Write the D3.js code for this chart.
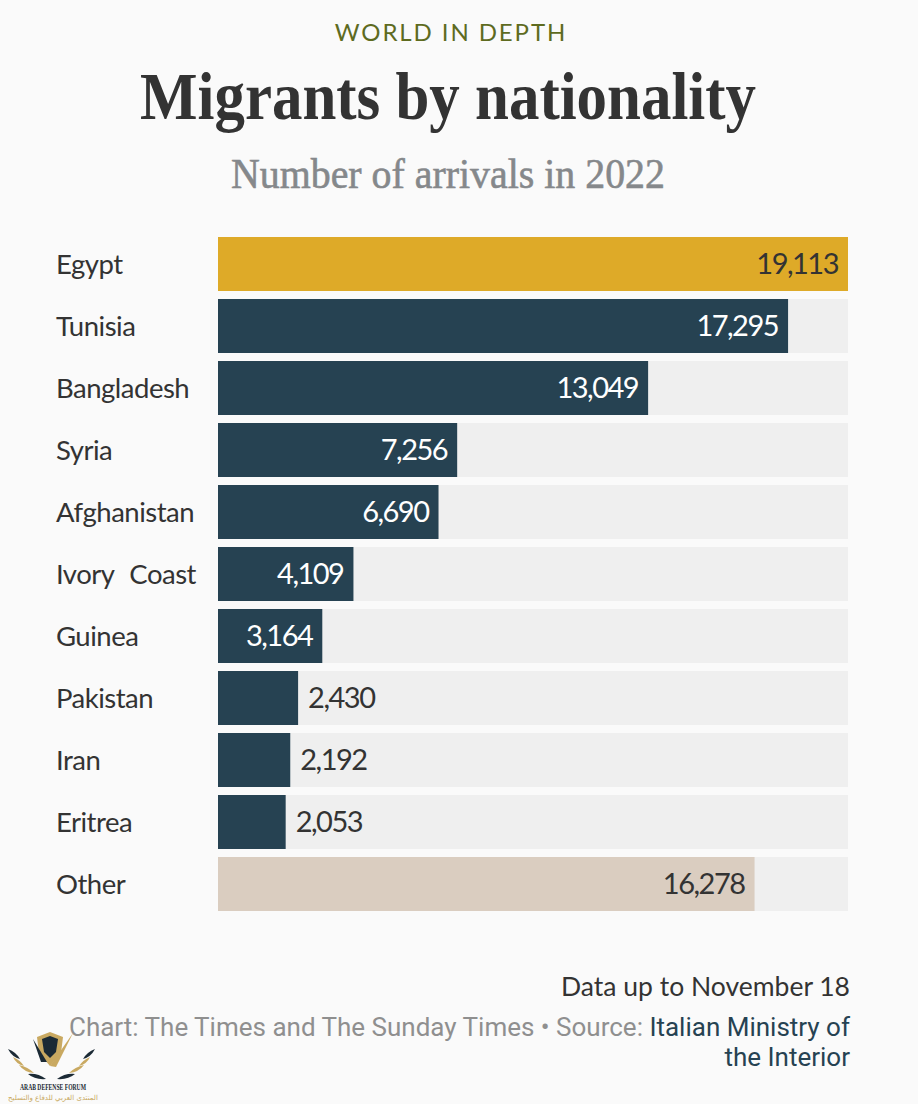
<!DOCTYPE html>
<html>
<head>
<meta charset="utf-8">
<script src="https://cdn.jsdelivr.net/npm/d3@7"></script>
<style>
  html, body { margin: 0; padding: 0; background: #fafafa; }
  svg { display: block; }
  .label { font-family: Lato, sans-serif; font-size: 27.5px; letter-spacing: -0.5px; word-spacing: 9px; fill: #333; }
  .value { font-family: Lato, sans-serif; font-size: 29px; letter-spacing: -1.5px; }
</style>
</head>
<body>
<svg id="chart" width="918" height="1104"></svg>
<script>
const categories = ["Egypt", "Tunisia", "Bangladesh", "Syria", "Afghanistan", "Ivory Coast",
  "Guinea", "Pakistan", "Iran", "Eritrea", "Other"];
const arrivals = [19113, 17295, 13049, 7256, 6690, 4109, 3164, 2430, 2192, 2053, 16278];
const barKinds = ["top", "main", "main", "main", "main", "main", "main", "main", "main", "main", "other"];

const fillByKind = { top: "#deaa28", main: "#264252", other: "#dacdc0" };
const insideTextByKind = { top: "#333", main: "#fff", other: "#333" };

const svg = d3.select("#chart");
const rows = categories.map((name, i) => ({ name, value: arrivals[i], kind: barKinds[i] }));

const x = d3.scaleLinear().domain([0, d3.max(arrivals)]).range([218, 848]);
const y = d3.scaleBand().domain(categories).range([237, 911]).paddingInner(8 / 62);
const fmt = d3.format(",");

// header
function headerText(txt, yPos, size, family, weight, color, spacing) {
  return svg.append("text")
    .attr("x", 448)
    .attr("y", yPos)
    .attr("text-anchor", "middle")
    .style("font-family", family)
    .style("font-size", size + "px")
    .style("font-weight", weight)
    .style("letter-spacing", spacing)
    .attr("fill", color)
    .text(txt);
}
headerText("WORLD IN DEPTH", 41, 24, "Lato, sans-serif", 400, "#5e6b1f", "1.9px").attr("x", 451);
headerText("Migrants by nationality", 119, 67, "'Liberation Serif', serif", 700, "#333", "0")
  .attr("textLength", 616).attr("lengthAdjust", "spacingAndGlyphs");
headerText("Number of arrivals in 2022", 188, 42, "'Liberation Serif', serif", 400, "#85888b", "0")
  .attr("textLength", 434).attr("lengthAdjust", "spacingAndGlyphs")
  .attr("stroke", "#85888b").attr("stroke-width", 0.6);

// rows
const row = svg.append("g").selectAll("g").data(rows).join("g")
  .attr("transform", d => `translate(0,${y(d.name)})`);

row.append("rect")
  .attr("x", x(0))
  .attr("width", x.range()[1] - x(0))
  .attr("height", y.bandwidth())
  .attr("fill", "#efefef");

row.append("rect")
  .attr("x", x(0))
  .attr("width", d => x(d.value) - x(0))
  .attr("height", y.bandwidth())
  .attr("fill", d => fillByKind[d.kind]);

row.append("text")
  .attr("class", "label")
  .attr("x", 56)
  .attr("y", y.bandwidth() / 2 + 10)
  .text(d => d.name);

// narrow bars carry their number outside
const isInside = d => x(d.value) - x(0) > 90;
row.append("text")
  .attr("class", "value")
  .attr("x", d => isInside(d) ? x(d.value) - 10 : x(d.value) + 10)
  .attr("y", y.bandwidth() / 2 + 10)
  .attr("text-anchor", d => isInside(d) ? "end" : "start")
  .attr("fill", d => isInside(d) ? insideTextByKind[d.kind] : "#333")
  .text(d => fmt(d.value));

// footer
svg.append("text")
  .attr("x", 850).attr("y", 996)
  .attr("text-anchor", "end")
  .style("font-family", "Lato, sans-serif")
  .style("font-size", "26.5px")
  .attr("fill", "#333")
  .text("Data up to November 18");

const source = svg.append("text")
  .attr("text-anchor", "end")
  .style("font-family", "Roboto, sans-serif")
  .style("font-size", "26px")
  .attr("fill", "#8f8f8f");
const line1 = source.append("tspan").attr("x", 850).attr("y", 1036);
line1.append("tspan").text("Chart: The Times and The Sunday Times • Source: ");
line1.append("tspan").attr("fill", "#264252").text("Italian Ministry of");
source.append("tspan").attr("x", 850).attr("y", 1066).attr("fill", "#264252").text("the Interior");

// watermark in the lower left corner
const mark = svg.append("g");
const gold = "#c9a961", navy = "#1b2a35";
mark.append("path").attr("d", "M37 1037 L50 1032 L63 1037 L61 1053 L50 1066 L39 1053 Z").attr("fill", gold);
mark.append("path").attr("d", "M42 1039 L50 1036 L58 1039 L56 1052 L50 1058 L44 1052 Z").attr("fill", navy);
mark.append("path").attr("d", "M50 1066 L73 1033 L56 1067 Z").attr("fill", gold);
mark.append("path").attr("d", "M33 1039 L47 1062 L41 1062 Z").attr("fill", navy);
const feathers = [
  "M8 1049 Q16 1052 20 1059 Q12 1057 8 1049 Z",
  "M13 1057 Q20 1060 24 1066 Q16 1064 13 1057 Z",
  "M19 1065 Q28 1067 34 1073 Q24 1072 19 1065 Z",
  "M28 1074 Q38 1073 46 1079 Q35 1080 28 1074 Z"
];
const tones = [navy, gold, gold, navy];
feathers.forEach((d, i) => {
  mark.append("path").attr("d", d).attr("fill", tones[i]);
  mark.append("path").attr("d", d).attr("fill", tones[i])
    .attr("transform", "translate(103,0) scale(-1,1)");
});
mark.append("text").attr("x", 53).attr("y", 1090).attr("text-anchor", "middle")
  .attr("textLength", 66).attr("lengthAdjust", "spacingAndGlyphs")
  .style("font-family", "'Liberation Serif', serif").style("font-size", "9px").style("font-weight", 700)
  .attr("fill", navy).text("ARAB DEFENSE FORUM");
mark.append("text").attr("x", 53).attr("y", 1100).attr("text-anchor", "middle")
  .style("font-family", "'DejaVu Sans', sans-serif").style("font-size", "7px")
  .attr("fill", gold).text("المنتدى العربي للدفاع والتسليح");
</script>
</body>
</html>
